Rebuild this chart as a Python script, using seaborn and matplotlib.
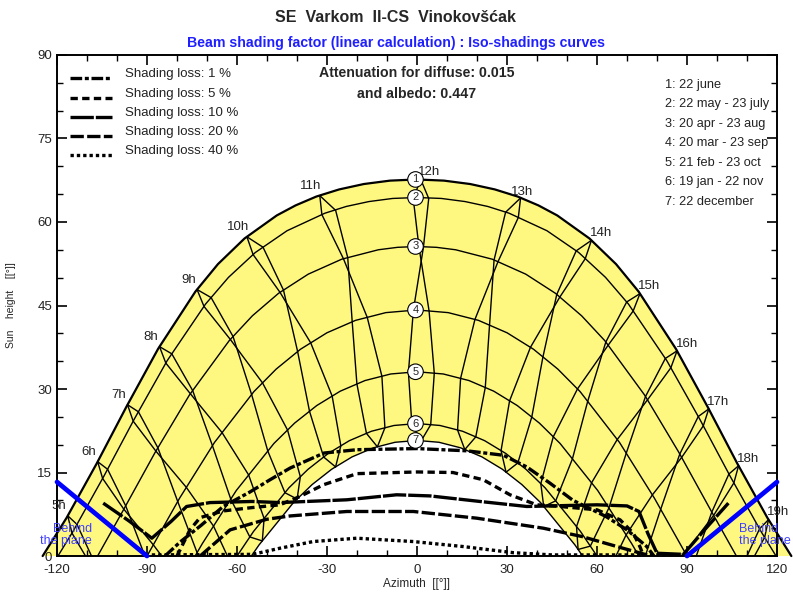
import numpy as np
import matplotlib
matplotlib.use("Agg")
import matplotlib.pyplot as plt
from matplotlib.ticker import MultipleLocator
import seaborn as sns

nan = np.nan

# --- sun paths (azimuth, height) of the 7 date curves, sunrise -> sunset
path_labels = ["1: 22 june", "2: 22 may - 23 july", "3: 20 apr - 23 aug", "4: 20 mar - 23 sep",
               "5: 21 feb - 23 oct", "6: 19 jan - 22 nov", "7: 22 december"]
path1_az = [-124.79, -116.80, -106.82, -96.89, -86.29, -73.86, -66.36, -57.49, -46.74, -40.48, -33.56, -25.95,
            -17.72, -9.00, 0.0, 9.00, 17.72, 25.95, 33.56, 40.48, 46.74, 57.49, 66.36, 73.86, 86.29, 96.89,
            106.82, 116.80, 124.79]
path1_h = [0.0, 6.87, 16.57, 26.79, 37.23, 47.51, 52.43, 57.04, 61.18, 62.98, 64.57, 65.85,
           66.82, 67.43, 67.64, 67.43, 66.82, 65.85, 64.57, 62.98, 61.18, 57.04, 52.43, 47.51, 37.23, 26.79,
           16.57, 6.87, 0.0]
path2_az = [-119.69, -114.59, -104.39, -94.20, -83.29, -70.50, -62.85, -53.92, -43.32, -30.70, -23.59, -16.03,
            -8.11, 0.0, 8.11, 16.03, 23.59, 30.70, 43.32, 53.92, 62.85, 70.50, 83.29, 94.20, 104.39, 114.59, 119.69]
path2_h = [0.0, 4.49, 14.33, 24.64, 35.08, 45.25, 50.05, 54.51, 58.43, 61.58, 62.79, 63.67,
           64.23, 64.40, 64.23, 63.67, 62.79, 61.58, 58.43, 54.51, 50.05, 45.25, 35.08, 24.64, 14.33, 4.49, 0.0]
path3_az = [-106.47, -98.00, -87.33, -75.88, -62.61, -54.88, -46.15, -36.26, -25.13, -12.89, -6.49, 0.0,
            6.49, 12.89, 25.13, 36.26, 46.15, 54.88, 62.61, 75.88, 87.33, 98.00, 106.47]
path3_h = [0.0, 8.15, 18.58, 28.91, 38.68, 43.15, 47.19, 50.63, 53.31, 55.01, 55.45, 55.60,
           55.45, 55.01, 53.31, 50.63, 47.19, 43.15, 38.68, 28.91, 18.58, 8.15, 0.0]
path4_az = [-90.0, -79.13, -67.51, -54.36, -46.94, -38.85, -30.02, -20.49, -10.41, 0.0,
            10.41, 20.49, 30.02, 38.85, 46.94, 54.36, 67.51, 79.13, 90.0]
path4_h = [0.0, 10.40, 20.40, 29.54, 33.58, 37.14, 40.10, 42.33, 43.72, 44.20,
           43.72, 42.33, 40.10, 37.14, 33.58, 29.54, 20.40, 10.40, 0.0]
path5_az = [-73.97, -71.55, -60.24, -47.68, -40.79, -33.42, -25.59, -17.33, -8.76, 0.0,
            8.76, 17.33, 25.59, 33.42, 40.79, 47.68, 60.24, 71.55, 73.97]
path5_h = [0.0, 2.24, 11.77, 20.23, 23.88, 27.03, 29.61, 31.52, 32.70, 33.10,
           32.70, 31.52, 29.61, 27.03, 23.88, 20.23, 11.77, 2.24, 0.0]
path6_az = [-60.00, -54.50, -42.70, -36.32, -29.60, -22.55, -15.21, -7.66, 0.0,
            7.66, 15.21, 22.55, 29.60, 36.32, 42.70, 54.50, 60.00]
path6_h = [0.0, 4.41, 12.25, 15.58, 18.42, 20.72, 22.41, 23.45, 23.80,
           23.45, 22.41, 20.72, 18.42, 15.58, 12.25, 4.41, 0.0]
path7_az = [-55.21, -52.66, -41.15, -34.95, -28.44, -21.64, -14.58, -7.34, 0.0,
            7.34, 14.58, 21.64, 28.44, 34.95, 41.15, 52.66, 55.21]
path7_h = [0.0, 1.99, 9.62, 12.84, 15.59, 17.81, 19.43, 20.43, 20.76,
           20.43, 19.43, 17.81, 15.59, 12.84, 9.62, 1.99, 0.0]
noon_h = [67.64, 64.40, 55.60, 44.20, 33.10, 23.80, 20.76]

# --- sun position at each legal hour, per date (5h .. 19h)
hours = list(range(5, 20))
jun_az = [-116.43, -106.45, -96.50, -85.83, -73.31, -56.70, -32.40, 1.30, 34.53, 58.14, 74.32, 86.68, 97.25, 107.19, 117.18]
jun_h = [7.23, 16.95, 27.18, 37.61, 47.87, 57.34, 64.73, 67.58, 64.32, 56.70, 47.13, 36.85, 26.42, 16.21, 6.54]
may_az = [-113.35, -103.15, -92.87, -81.73, -68.63, -51.33, -27.12, 3.91, 33.78, 56.10, 72.06, 84.62, 95.44, 105.63, 115.88]
may_h = [5.69, 15.59, 25.91, 36.32, 46.42, 55.47, 62.09, 64.22, 60.81, 53.42, 44.01, 33.81, 23.38, 13.13, 3.35]
jul_az = [-115.01, -104.80, -94.61, -83.73, -71.01, -54.63, -31.71, -1.28, 29.53, 53.07, 69.89, 82.78, 93.76, 103.98, 114.18]
jul_h = [4.12, 13.94, 24.23, 34.66, 44.84, 54.15, 61.33, 64.34, 61.75, 54.82, 45.63, 35.49, 25.06, 14.74, 4.88]
apr_az = [nan, -97.11, -86.38, -74.78, -61.32, -44.50, -23.09, 2.15, 26.99, 47.61, 63.72, 76.83, 88.22, 98.88, nan]
apr_h = [nan, 9.02, 19.44, 29.72, 39.43, 47.76, 53.59, 55.50, 52.86, 46.52, 37.87, 28.05, 17.71, 7.30, nan]
aug_az = [nan, -97.73, -87.04, -75.55, -62.22, -45.66, -24.52, 0.64, 25.69, 46.59, 62.94, 76.17, 87.60, 98.27, nan]
aug_h = [nan, 8.41, 18.84, 29.15, 38.90, 47.36, 53.40, 55.57, 53.18, 46.99, 38.44, 28.65, 18.32, 7.89, nan]
mar_az = [nan, nan, -79.76, -68.19, -55.13, -39.79, -21.60, -1.21, 19.31, 37.82, 53.49, 66.75, 78.46, 89.37, nan]
mar_h = [nan, nan, 9.79, 19.82, 29.01, 36.72, 42.07, 44.14, 42.49, 37.49, 30.01, 20.93, 10.98, 0.60, nan]
sep_az = [nan, -87.90, -76.89, -64.97, -51.49, -35.43, -16.59, 4.03, 24.18, 41.98, 56.90, 69.75, 81.23, nan, nan]
sep_h = [nan, 2.01, 12.33, 22.16, 31.10, 38.29, 42.87, 44.01, 41.47, 35.76, 27.78, 18.47, 8.39, nan, nan]
feb_az = [nan, nan, -73.31, -62.08, -49.73, -35.83, -20.03, -2.86, 14.53, 30.86, 45.43, 58.19, 69.71, nan, nan]
feb_h = [nan, nan, 0.61, 10.22, 18.85, 26.00, 30.90, 32.97, 31.91, 27.87, 21.42, 13.15, 3.79, nan, nan]
oct_az = [nan, nan, -67.83, -56.11, -43.15, -28.28, -11.70, 5.76, 22.76, 38.26, 51.81, 63.96, nan, nan, nan]
oct_h = [nan, nan, 5.38, 14.55, 22.63, 28.73, 32.30, 32.84, 30.27, 24.96, 17.45, 8.63, nan, nan, nan]
jan_az = [nan, nan, nan, -55.73, -44.02, -31.11, -16.85, -1.72, 13.52, 28.02, 41.27, 53.18, nan, nan, nan]
jan_h = [nan, nan, nan, 3.43, 11.37, 17.78, 22.03, 23.72, 22.64, 18.94, 13.00, 5.29, nan, nan, nan]
nov_az = [nan, nan, nan, -50.97, -38.89, -25.39, -10.70, 4.57, 19.59, 33.61, 46.23, 57.78, nan, nan, nan]
nov_h = [nan, nan, nan, 6.75, 14.24, 19.79, 23.03, 23.59, 21.40, 16.72, 9.91, 1.78, nan, nan, nan]
dec_az = [nan, nan, nan, -51.57, -39.97, -27.14, -13.20, 1.40, 15.93, 29.68, 42.25, 53.70, nan, nan, nan]
dec_h = [nan, nan, nan, 2.71, 10.24, 16.01, 19.62, 20.70, 19.12, 15.06, 8.89, 1.18, nan, nan, nan]
# azimuth where an hour line meets the horizon (first / second half of the year)
horizon_a = {5: -108.5, 6: -90.7, 7: -72.8, 17: 66.3, 18: 88.8, 19: 112.5}
horizon_b = {5: -110.5, 6: -85.1, 7: -63.2, 17: 76.1, 18: 93.1, 19: 110.0}

# --- iso-shading curves
iso_labels = ["Shading loss: 1 %", "Shading loss: 5 %", "Shading loss: 10 %",
              "Shading loss: 20 %", "Shading loss: 40 %"]
iso1_az = [-84, -79, -72, -64.6, -55.7, -49, -42.3, -31, -20, 0, 16.6, 28.8, 36.6, 44.3, 52, 63, 70, 76.6, 79]
iso1_h = [0, 2.5, 5.5, 8.9, 11.5, 13.7, 15.8, 18.5, 19.1, 19.3, 18.9, 18.1, 16.0, 13.1, 10.0, 7.1, 4.7, 1.7, 0]
iso5_az = [-80, -79, -75.7, -72.3, -64.6, -55, -45.7, -39, -31.2, -20, 0, 12, 22.1, 31, 39.9, 47.7, 60, 67.7, 72.1, 74.3, 75.5]
iso5_h = [0, 1.1, 4.7, 6.9, 8.1, 8.7, 9.2, 10.7, 12.8, 14.8, 15.1, 15.0, 13.7, 11.0, 9.2, 8.9, 8.3, 6.5, 4.1, 1.7, 0]
iso10_az = [-104.6, -96, -88.4, -82, -76.8, -69, -55, -45.7, -23.4, -6.8, 4.3, 21, 36.6, 44.3, 60, 70, 74, 77, 80, 88.8, 96, 103.8]
iso10_h = [9.5, 6.3, 3.2, 6.2, 8.9, 9.6, 9.8, 9.6, 10.1, 11.0, 10.8, 9.8, 8.9, 9.0, 9.2, 9.0, 8.0, 4.0, 0.5, 0.3, 4.8, 9.5]
iso20_az = [-72.3, -62.3, -50.1, -42.3, -23.4, -1.2, 19.9, 42.1, 55, 68, 78]
iso20_h = [0, 4.7, 6.6, 7.2, 8.0, 8.0, 6.8, 5.0, 3.5, 1.5, 0]
iso40_az = [-88.4, -55, -52.3, -45.7, -34.6, -20.1, -1.2, 15.4, 32.1, 45, 89]
iso40_h = [0.2, 0.3, 0.6, 1.4, 2.6, 3.2, 2.6, 1.7, 0.6, 0.2, 0.2]

sns.set_style("ticks")
plt.rcParams["font.family"] = ["Liberation Sans", "DejaVu Sans"]
plt.rcParams["axes.unicode_minus"] = False

fig = plt.figure(figsize=(7.93, 5.95), dpi=100)
ax = fig.add_axes([0.0719, 0.0655, 0.9079, 0.8421])

# yellow area between the june and december paths
ax.fill(path1_az + path7_az[::-1], path1_h + path7_h[::-1], color="#fff880", lw=0, zorder=0.5, clip_on=False)

paths = [(path1_az, path1_h), (path2_az, path2_h), (path3_az, path3_h), (path4_az, path4_h),
         (path5_az, path5_h), (path6_az, path6_h), (path7_az, path7_h)]
for k, (az, h) in enumerate(paths):
    line_w = 1.6 if k == 0 else 1.0
    sns.lineplot(x=az, y=h, sort=False, estimator=None, color="black", lw=line_w, ax=ax, zorder=2)
ax.lines[0].set_clip_on(False)

# hour lines, two branches (jan -> jun and jul -> dec)
branch_a = [(jun_az, jun_h), (may_az, may_h), (apr_az, apr_h), (mar_az, mar_h),
            (feb_az, feb_h), (jan_az, jan_h), (dec_az, dec_h)]
branch_b = [(jun_az, jun_h), (jul_az, jul_h), (aug_az, aug_h), (sep_az, sep_h),
            (oct_az, oct_h), (nov_az, nov_h), (dec_az, dec_h)]
for i, hr in enumerate(hours):
    for branch, ends in ((branch_a, horizon_a), (branch_b, horizon_b)):
        xs = [d[0][i] for d in branch if not np.isnan(d[0][i])]
        ys = [d[1][i] for d in branch if not np.isnan(d[1][i])]
        if hr in ends:
            xs.append(ends[hr])
            ys.append(0.0)
        ax.plot(xs, ys, color="black", lw=1.0, zorder=2)
    if hr < 12:
        dx, dy = -2.9, 1.8
    elif hr == 12:
        dx, dy = 2.8, 1.4
    elif hr == 13:
        dx, dy = 0.6, 1.0
    else:
        dx, dy = 3.2, 1.3
    ax.text(jun_az[i] + dx, jun_h[i] + dy, f"{hr}h", ha="center", va="center",
            fontsize=9.5, color="#222222", zorder=5)

# iso-shading curves
iso_styles = [(0, (3.5, 0.8, 1.2, 0.8)), (0, (2.2, 1.3)), (0, (7, 0.6)), (0, (4, 1.0)), (0, (1.0, 0.9))]
iso_data = [(iso1_az, iso1_h), (iso5_az, iso5_h), (iso10_az, iso10_h), (iso20_az, iso20_h), (iso40_az, iso40_h)]
for (az, h), ls in zip(iso_data, iso_styles):
    sns.lineplot(x=az, y=h, sort=False, estimator=None, color="black", lw=2.4,
                 linestyle=ls, ax=ax, zorder=3)

# "behind the plane" limits
ax.plot([-120, -90], [13.3, 0], color="#0000ff", lw=3.4, zorder=4, solid_capstyle="round", clip_on=False)
ax.plot([90, 120], [0, 13.3], color="#0000ff", lw=3.4, zorder=4, solid_capstyle="round", clip_on=False)
ax.text(-108.3, 3.7, "Behind\nthe plane", color="#4040ff", fontsize=9, ha="right", va="center",
        multialignment="right", linespacing=1.0, zorder=5, clip_on=False)
ax.text(107.3, 3.7, "Behind\nthe plane", color="#4040ff", fontsize=9, ha="left", va="center",
        multialignment="left", linespacing=1.0, zorder=5, clip_on=False)

# numbered circles at noon
for k, noon in enumerate(noon_h):
    ax.text(-0.5, noon, str(k + 1), ha="center", va="center", fontsize=8, zorder=6,
            bbox=dict(boxstyle="circle,pad=0.25", fc="white", ec="black", lw=0.8))

# legends
for k, (lab, ls) in enumerate(zip(iso_labels, iso_styles)):
    yk = 0.9535 - k * 0.0385
    ax.plot([0.018, 0.076], [yk, yk], transform=ax.transAxes, color="black", lw=2.4, linestyle=ls)
    ax.text(0.094, yk + 0.008, lab, transform=ax.transAxes, fontsize=9.5, va="center", color="#222222")
for k, lab in enumerate(path_labels):
    ax.text(0.844, 0.940 - k * 0.0388, lab, transform=ax.transAxes, fontsize=9.2, va="center", color="#222222")

ax.text(0, 86.8, "Attenuation for diffuse: 0.015", ha="center", va="center", fontsize=10.2, fontweight="bold")
ax.text(0, 83.0, "and albedo: 0.447", ha="center", va="center", fontsize=10.2, fontweight="bold")

fig.text(0.4987, 0.9714, "SE  Varkom  II-CS  Vinokovšćak", ha="center", va="center",
         fontsize=11.5, fontweight="bold")
fig.text(0.4995, 0.9277, "Beam shading factor (linear calculation) : Iso-shadings curves", ha="center",
         va="center", fontsize=10.2, fontweight="bold", color="#1f1fff")

ax.set_xlim(-120, 120)
ax.set_ylim(0, 90)
ax.set_xticks(range(-120, 121, 30))
ax.set_yticks(range(0, 91, 15))
ax.xaxis.set_minor_locator(MultipleLocator(10))
ax.yaxis.set_minor_locator(MultipleLocator(5))
ax.tick_params(which="both", direction="in", top=True, right=True, labelsize=9.5, colors="black",
               labelcolor="#222222")
ax.tick_params(which="major", length=7, width=1.2)
ax.tick_params(axis="x", which="major", pad=6)
ax.tick_params(which="minor", length=4, width=1.0)
for sp in ax.spines.values():
    sp.set_linewidth(1.4)
    sp.set_color("black")
ax.set_xlabel("Azimuth  [[°]]", fontsize=8.5, labelpad=1)
ax.set_ylabel("Sun    height    [[°]]", fontsize=7.5, labelpad=15)

fig.savefig("out.png", dpi=100)
